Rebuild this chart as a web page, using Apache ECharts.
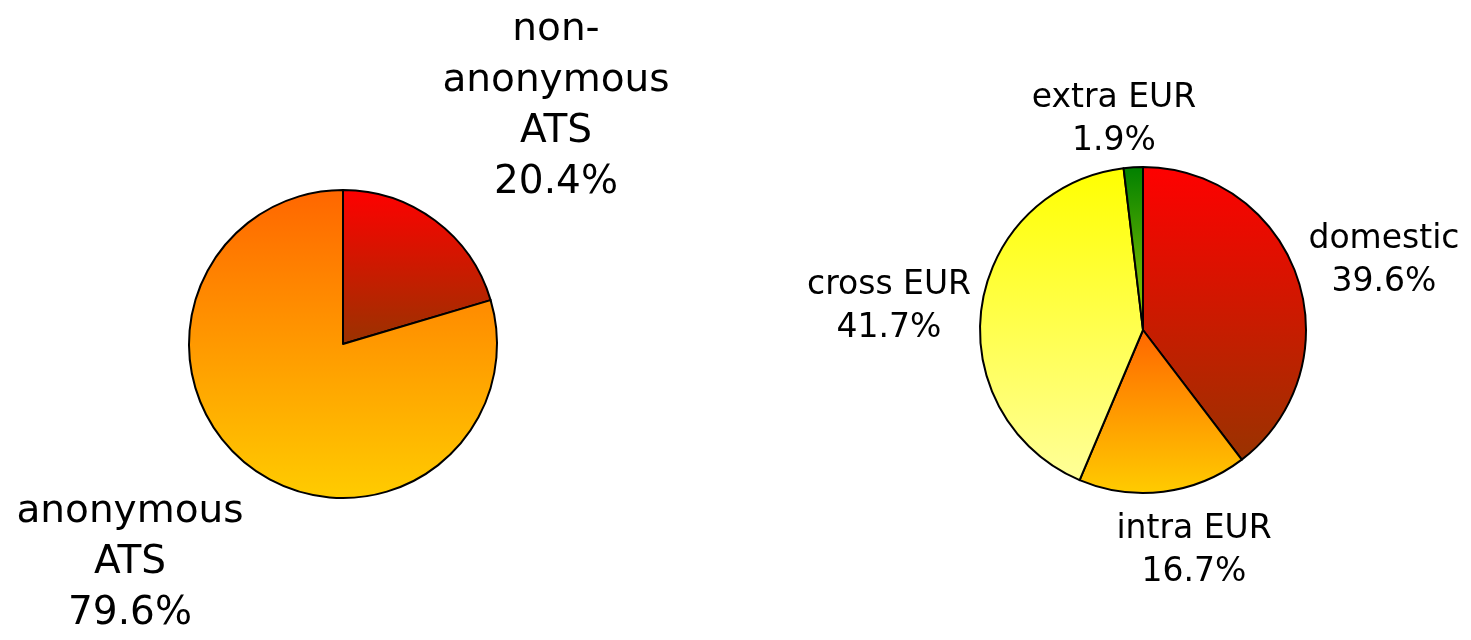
<!DOCTYPE html>
<html>
<head>
<meta charset="utf-8">
<script src="https://cdn.jsdelivr.net/npm/echarts@6/dist/echarts.min.js"></script>
<style>
html,body{margin:0;padding:0;background:#fff;}
#chart{width:1471px;height:640px;}
</style>
</head>
<body>
<div id="chart"></div>
<script>
// ---- data ----
const leftCategories = ['non-\nanonymous\nATS', 'anonymous\nATS'];
const leftValues = [20.4, 79.6];
const rightCategories = ['domestic', 'intra EUR', 'cross EUR', 'extra EUR'];
const rightValues = [39.6, 16.7, 41.7, 1.9];

// ---- styles ----
const leftGradients = [['#ff0000', '#993300'], ['#ff6600', '#ffcc00']];
const rightGradients = [['#ff0000', '#993300'], ['#ff6600', '#ffcc00'], ['#ffff00', '#ffff99'], ['#008000', '#99cc00']];
const leftLabelPos = [[556, 106], [130, 563]];
const rightLabelPos = [[1384, 261], [1194, 551], [889, 307], [1114, 120]];

function grad(c) {
  return new echarts.graphic.LinearGradient(0, 0, 0, 1, [
    { offset: 0, color: c[0] }, { offset: 1, color: c[1] }
  ]);
}
function buildData(cats, vals, grads) {
  return cats.map((n, i) => ({ name: n, value: vals[i], itemStyle: { color: grad(grads[i]) } }));
}
function labelFmt(p) { return p.name + '\n' + p.value.toFixed(1) + '%'; }

const chart = echarts.init(document.getElementById('chart'), null, { renderer: 'canvas' });
chart.setOption({
  animation: false,
  backgroundColor: '#ffffff',
  series: [
    {
      type: 'pie',
      center: [343, 344],
      radius: 154,
      startAngle: 90,
      clockwise: true,
      avoidLabelOverlap: false,
      itemStyle: { borderColor: '#000', borderWidth: 2 },
      label: {
        show: true, position: 'outside', formatter: labelFmt,
        fontFamily: 'DejaVu Sans', fontSize: 39, lineHeight: 51, color: '#000', align: 'center'
      },
      labelLine: { show: false },
      labelLayout: function (p) {
        const pos = leftLabelPos[p.dataIndex];
        return { x: pos[0], y: pos[1], align: 'center', verticalAlign: 'middle' };
      },
      emphasis: { disabled: true },
      data: buildData(leftCategories, leftValues, leftGradients)
    },
    {
      type: 'pie',
      center: [1143, 330],
      radius: 163,
      startAngle: 90,
      clockwise: true,
      avoidLabelOverlap: false,
      itemStyle: { borderColor: '#000', borderWidth: 2 },
      label: {
        show: true, position: 'outside', formatter: labelFmt,
        fontFamily: 'DejaVu Sans', fontSize: 33, lineHeight: 43, color: '#000', align: 'center'
      },
      labelLine: { show: false },
      labelLayout: function (p) {
        const pos = rightLabelPos[p.dataIndex];
        return { x: pos[0], y: pos[1], align: 'center', verticalAlign: 'middle' };
      },
      emphasis: { disabled: true },
      data: buildData(rightCategories, rightValues, rightGradients)
    }
  ]
});
</script>
</body>
</html>
